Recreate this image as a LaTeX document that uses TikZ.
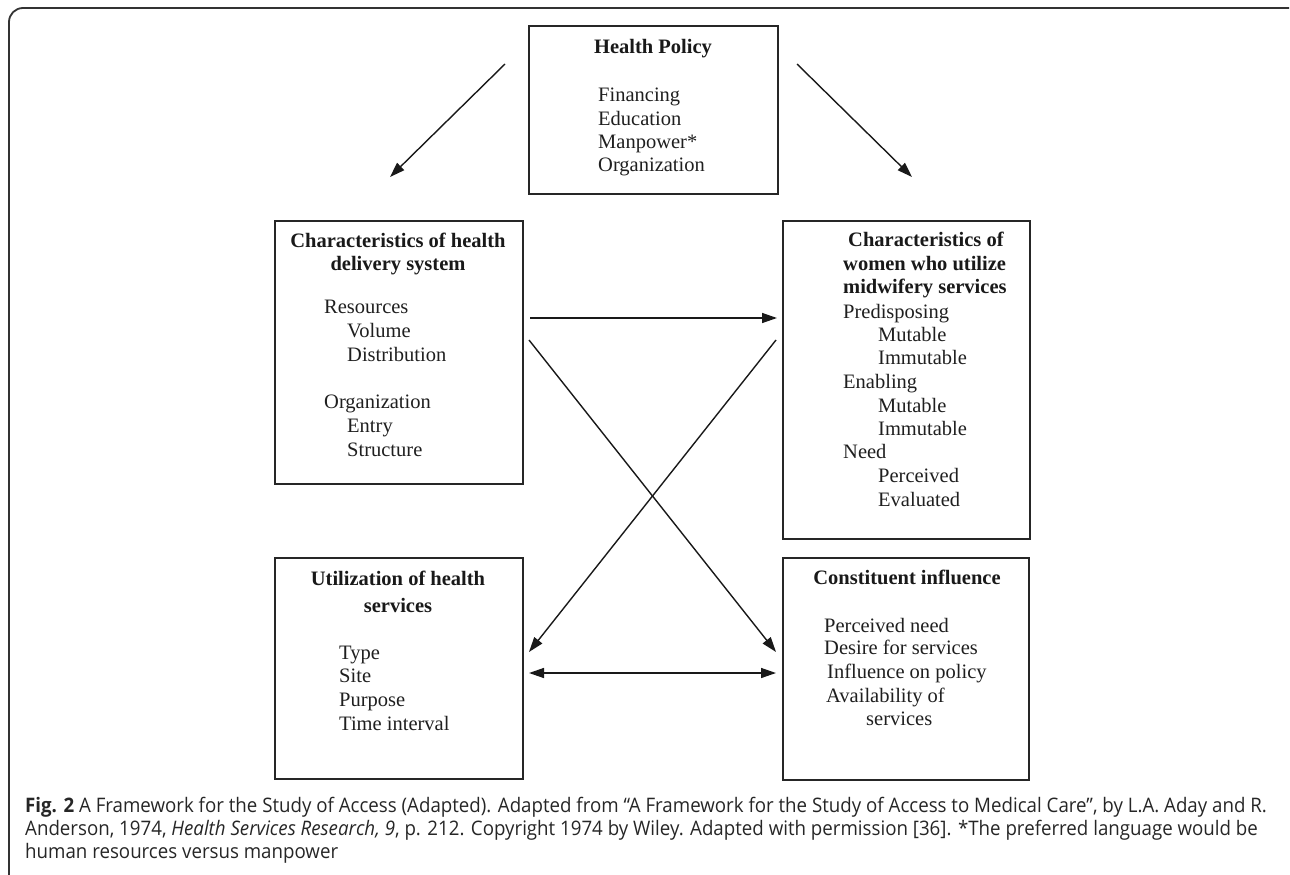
\documentclass[tikz,border=0pt]{standalone}
\usepackage{fontspec}
\setmainfont{Liberation Serif}
\newfontfamily\capfont[FakeStretch=0.935]{Open Sans}
\usetikzlibrary{arrows.meta}
\begin{document}
\begin{tikzpicture}[x=1pt,y=-1pt,
  box/.style={draw=black!85, line width=1.6pt, inner sep=0pt, anchor=north west},
  ln/.style={anchor=base west, inner sep=0pt, text=black!88, font=\fontsize{20.5}{24}\selectfont},
  hd/.style={anchor=base, inner sep=0pt, text=black!90, font=\fontsize{20.5}{24}\selectfont\bfseries},
  arr/.style={line width=1.4pt, draw=black!90, -{Triangle[length=15pt,width=10pt]}},
  darr/.style={line width=1.4pt, draw=black!90, {Triangle[length=15pt,width=10pt]}-{Triangle[length=15pt,width=10pt]}},
  captxt/.style={anchor=base west, inner sep=0pt, text=black!85, font=\capfont\fontsize{20}{24}\selectfont},
  frame/.style={draw=black!80, line width=1.8pt, rounded corners=14pt}]
\useasboundingbox (0,0) rectangle (1290,875);
% outer frame
\coordinate (f1) at (9,876);
\coordinate (f2) at (1289,8);
\draw[frame] (f1) |- (f2);
% boxes
\node[box, minimum width=249pt, minimum height=168pt] (hp) at (528,25) {};
\node[box, minimum width=248pt, minimum height=263pt] (del) at (274,220) {};
\node[box, minimum width=247pt, minimum height=318pt] (wom) at (782,220) {};
\node[box, minimum width=248pt, minimum height=221pt] (uti) at (274,557) {};
\node[box, minimum width=246pt, minimum height=222pt] (con) at (782,557) {};
% Health Policy
\node[hd] (hpt) at (653,53) {Health Policy};
\node[ln] (hp1) at (598,101) {Financing};
\node[ln] (hp2) at (598,125) {Education};
\node[ln] (hp3) at (598,148) {Manpower*};
\node[ln] (hp4) at (598,171) {Organization};
% delivery system
\node[hd] (delt1) at (398,247) {Characteristics of health};
\node[hd] (delt2) at (398,270) {delivery system};
\node[ln] (del1) at (324,313) {Resources};
\node[ln] (del2) at (347,337) {Volume};
\node[ln] (del3) at (347,361) {Distribution};
\node[ln] (del4) at (324,408) {Organization};
\node[ln] (del5) at (347,432) {Entry};
\node[ln] (del6) at (347,456) {Structure};
% women
\node[hd, anchor=base west] (womt1) at (848,246) {Characteristics of};
\node[hd, anchor=base west] (womt2) at (843,270) {women who utilize};
\node[hd, anchor=base west] (womt3) at (843,293) {midwifery services};
\node[ln] (wom1) at (843,318) {Predisposing};
\node[ln] (wom2) at (878,341) {Mutable};
\node[ln] (wom3) at (878,364) {Immutable};
\node[ln] (wom4) at (843,388) {Enabling};
\node[ln] (wom5) at (878,412) {Mutable};
\node[ln] (wom6) at (878,435) {Immutable};
\node[ln] (wom7) at (843,458) {Need};
\node[ln] (wom8) at (878,482) {Perceived};
\node[ln] (wom9) at (878,506) {Evaluated};
% utilization
\node[hd] (utit1) at (398,585) {Utilization of health};
\node[hd] (utit2) at (398,612) {services};
\node[ln] (uti1) at (339,659) {Type};
\node[ln] (uti2) at (339,682) {Site};
\node[ln] (uti3) at (339,706) {Purpose};
\node[ln] (uti4) at (339,730) {Time interval};
% constituent
\node[hd] (cont) at (907,584) {Constituent influence};
\node[ln] (con1) at (824,632) {Perceived need};
\node[ln] (con2) at (824,654) {Desire for services};
\node[ln] (con3) at (827,678) {Influence on policy};
\node[ln] (con4) at (826,702) {Availability of};
\node[ln] (con5) at (866,725) {services};
% arrows
\coordinate (a1s) at (505,64);  \coordinate (a1e) at (390,177);
\coordinate (a2s) at (797,64);  \coordinate (a2e) at (912,177);
\coordinate (a3s) at (530,318); \coordinate (a3e) at (777,318);
\coordinate (a4s) at (529,340); \coordinate (a4e) at (776,652);
\coordinate (a5s) at (776,340); \coordinate (a5e) at (529,652);
\coordinate (a6s) at (529,673); \coordinate (a6e) at (776,673);
\draw[arr] (a1s) -- (a1e);
\draw[arr] (a2s) -- (a2e);
\draw[arr] (a3s) -- (a3e);
\draw[arr] (a4s) -- (a4e);
\draw[arr] (a5s) -- (a5e);
\draw[darr] (a6s) -- (a6e);
% caption
\node[captxt] (cap1) at (25,812) {\textbf{Fig. 2} A Framework for the Study of Access (Adapted). Adapted from “A Framework for the Study of Access to Medical Care”, by L.A. Aday and R.};
\node[captxt] (cap2) at (25,835) {Anderson, 1974, \textit{Health Services Research, 9}, p. 212. Copyright 1974 by Wiley. Adapted with permission [36]. *The preferred language would be};
\node[captxt] (cap3) at (25,858) {human resources versus manpower};
\end{tikzpicture}
\end{document}
